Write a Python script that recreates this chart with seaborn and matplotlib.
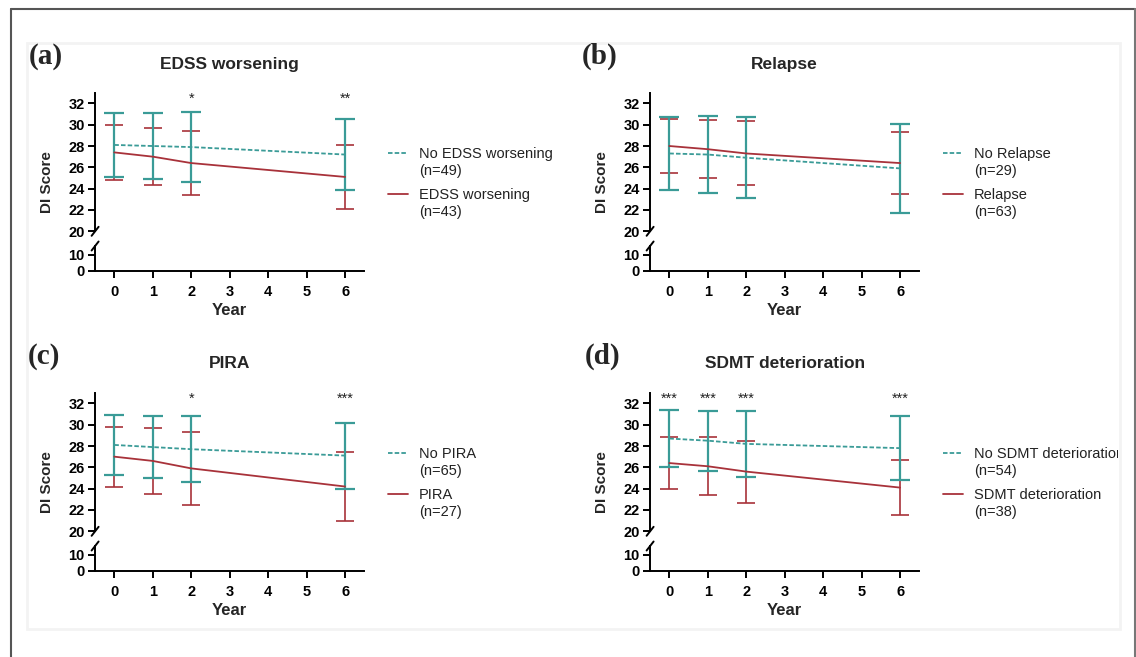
import numpy as np
import pandas as pd
import matplotlib
matplotlib.use("Agg")
import matplotlib.pyplot as plt
import seaborn as sns
from matplotlib.lines import Line2D
from matplotlib.patches import Rectangle

# ----------------------------
# DATA (mean and SD of DI score)
# ----------------------------

years = [0, 1, 2, 6]

titles = ["EDSS worsening", "Relapse", "PIRA", "SDMT deterioration"]
letters = ["(a)", "(b)", "(c)", "(d)"]
no_labels = ["No EDSS worsening", "No Relapse", "No PIRA", "No SDMT deterioration"]
yes_labels = ["EDSS worsening", "Relapse", "PIRA", "SDMT deterioration"]
no_n = [49, 29, 65, 54]
yes_n = [43, 63, 27, 38]

edss_no_mean = [28.1, 28.0, 27.9, 27.2]
edss_no_sd = [3.0, 3.1, 3.3, 3.3]
edss_yes_mean = [27.4, 27.0, 26.4, 25.1]
edss_yes_sd = [2.6, 2.7, 3.0, 3.0]

relapse_no_mean = [27.3, 27.2, 26.9, 25.9]
relapse_no_sd = [3.4, 3.6, 3.8, 4.2]
relapse_yes_mean = [28.0, 27.7, 27.3, 26.4]
relapse_yes_sd = [2.5, 2.7, 3.0, 2.9]

pira_no_mean = [28.1, 27.9, 27.7, 27.1]
pira_no_sd = [2.8, 2.9, 3.1, 3.1]
pira_yes_mean = [27.0, 26.6, 25.9, 24.2]
pira_yes_sd = [2.8, 3.1, 3.4, 3.2]

sdmt_no_mean = [28.7, 28.5, 28.2, 27.8]
sdmt_no_sd = [2.7, 2.8, 3.1, 3.0]
sdmt_yes_mean = [26.4, 26.1, 25.6, 24.1]
sdmt_yes_sd = [2.4, 2.7, 2.9, 2.6]

stars_edss = ["", "", "*", "**"]
stars_relapse = ["", "", "", ""]
stars_pira = ["", "", "*", "***"]
stars_sdmt = ["***", "***", "***", "***"]

no_means = [edss_no_mean, relapse_no_mean, pira_no_mean, sdmt_no_mean]
no_sds = [edss_no_sd, relapse_no_sd, pira_no_sd, sdmt_no_sd]
yes_means = [edss_yes_mean, relapse_yes_mean, pira_yes_mean, sdmt_yes_mean]
yes_sds = [edss_yes_sd, relapse_yes_sd, pira_yes_sd, sdmt_yes_sd]
stars = [stars_edss, stars_relapse, stars_pira, stars_sdmt]

TEAL = "#3a9b97"
RED = "#a8323a"

# ----------------------------
# FIGURE
# ----------------------------

sns.set_style("ticks")
plt.rcParams["font.family"] = ["Liberation Sans", "DejaVu Sans"]

W, H = 1136, 657
fig = plt.figure(figsize=(W / 100, H / 100), dpi=100)
fig.patch.set_facecolor("white")


def fx(x):
    return x / W


def fy(y):
    return 1 - y / H


# outer frame and faint inner panel
fig.add_artist(Line2D([fx(11), fx(11)], [fy(9), 0], transform=fig.transFigure, color="#555555", lw=1.5))
fig.add_artist(Line2D([fx(11), fx(1135)], [fy(9), fy(9)], transform=fig.transFigure, color="#555555", lw=1.5))
fig.add_artist(Line2D([fx(1135), fx(1135)], [fy(9), 0], transform=fig.transFigure, color="#777777", lw=1.5))
fig.add_artist(Rectangle((fx(27), fy(629)), fx(1120) - fx(27), fy(43) - fy(629),
                         transform=fig.transFigure, fill=False, ec="#f3f3f3", lw=2))

col_left = [95.1, 650.1]
row_off = [0, 300]
letter_pos = [(45.5, 56), (600, 56), (43.5, 356), (603, 356)]
AX_W = 269.2

for i in range(4):
    L = col_left[i % 2]
    dy = row_off[i // 2]

    ax_top = fig.add_axes([fx(L), fy(231.3 + dy), AX_W / W, 138.6 / H])
    ax_bot = fig.add_axes([fx(L), fy(271 + dy), AX_W / W, 25 / H])

    df = pd.DataFrame({
        "Year": years * 2,
        "DI": no_means[i] + yes_means[i],
        "Group": [no_labels[i]] * 4 + [yes_labels[i]] * 4,
    })

    # SD error bars: red first, teal on top
    ax_top.errorbar(years, yes_means[i], yerr=yes_sds[i], fmt="none", ecolor=RED,
                    elinewidth=1.2, capsize=6.5, capthick=1.2, zorder=2)
    ax_top.errorbar(years, no_means[i], yerr=no_sds[i], fmt="none", ecolor=TEAL,
                    elinewidth=1.6, capsize=7, capthick=1.6, zorder=3)

    sns.lineplot(data=df, x="Year", y="DI", hue="Group", style="Group",
                 palette={no_labels[i]: TEAL, yes_labels[i]: RED},
                 dashes={no_labels[i]: (2.5, 1.2), yes_labels[i]: ""},
                 linewidth=1.3, legend=False, ax=ax_top, zorder=4)

    ax_top.set_xlim(-0.5, 6.5)
    ax_top.set_ylim(20, 33)
    ax_top.set_yticks(range(20, 33, 2))
    ax_top.set_xlabel("")
    ax_top.set_ylabel("DI Score", fontsize=11, fontweight="bold")
    ax_top.yaxis.set_label_coords(-41 / AX_W, (231.3 - 182) / 138.6)
    ax_top.spines[["top", "right", "bottom"]].set_visible(False)
    ax_top.tick_params(axis="x", bottom=False, labelbottom=False)
    ax_top.patch.set_alpha(0)

    ax_bot.set_xlim(-0.5, 6.5)
    ax_bot.set_ylim(0, 15.5)
    ax_bot.set_yticks([0, 10])
    ax_bot.set_xticks(range(7))
    ax_bot.set_xlabel("Year", fontsize=12, fontweight="bold")
    ax_bot.xaxis.set_label_coords(0.5, -(303 - 271) / 25)
    ax_bot.spines[["top", "right"]].set_visible(False)
    ax_bot.patch.set_alpha(0)

    for ax in (ax_top, ax_bot):
        for s in ("left", "bottom"):
            ax.spines[s].set_linewidth(1.4)
            ax.spines[s].set_color("black")
        ax.tick_params(axis="y", width=1.4, length=5, labelsize=10.5, pad=2.5, colors="black")
        ax.tick_params(axis="x", width=1.4, length=5, labelsize=10.5, pad=5, colors="black")
        for lab in ax.get_xticklabels() + ax.get_yticklabels():
            lab.set_fontweight("bold")

    # axis break slashes
    dxa = 3.5 / AX_W
    ax_top.plot([-dxa, dxa], [-4.5 / 138.6, 4.5 / 138.6], transform=ax_top.transAxes,
                color="black", lw=1.4, clip_on=False)
    ax_bot.plot([-dxa, dxa], [1 - 4.5 / 25, 1 + 4.5 / 25], transform=ax_bot.transAxes,
                color="black", lw=1.4, clip_on=False)

    # significance marks
    for x, s in zip(years, stars[i]):
        if s:
            ax_top.text(x, 32.4, s, ha="center", va="center", fontsize=10.5, color="#222222", clip_on=False)

    # title and panel letter
    fig.text(fx(L + AX_W / 2), fy(64 + dy), titles[i], ha="center", va="center",
             fontsize=12.5, fontweight="bold")
    lx, ly = letter_pos[i]
    fig.text(fx(lx), fy(ly), letters[i], ha="center", va="center", fontsize=21,
             fontweight="bold", family=["Liberation Serif", "DejaVu Serif"])

    # legend
    lg_x0 = L + 293
    for k, (lab, n, c, ls) in enumerate([(no_labels[i], no_n[i], TEAL, (0, (2.5, 1.2))),
                                          (yes_labels[i], yes_n[i], RED, "-")]):
        ly0 = 153 + dy + k * 41
        fig.add_artist(Line2D([fx(lg_x0), fx(lg_x0 + 20)], [fy(ly0), fy(ly0)],
                              transform=fig.transFigure, color=c, lw=1.3, linestyle=ls))
        t = fig.text(fx(lg_x0 + 31), fy(ly0 + 9.5), f"{lab}\n(n={n})", ha="left", va="center",
                     fontsize=10.5, linespacing=1.3, color="#222222")
        t.set_clip_path(Rectangle((0, 0), fx(1118), 1, transform=fig.transFigure))

fig.savefig("out.png", dpi=100)
